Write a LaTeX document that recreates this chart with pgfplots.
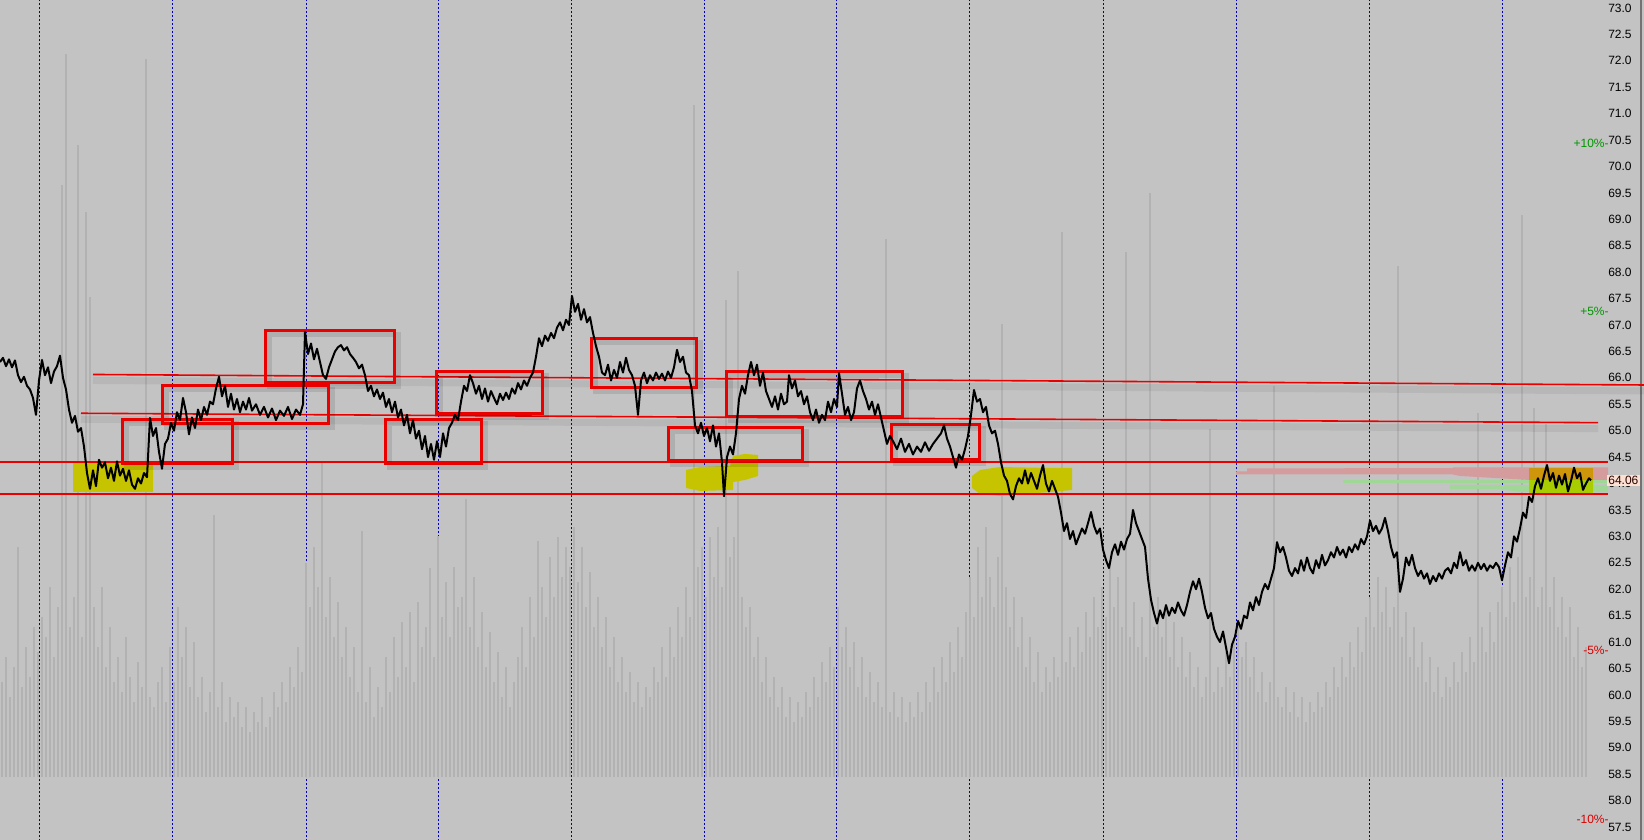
\documentclass[border=0pt]{standalone}
\usepackage{fontspec}
\setmainfont{Liberation Sans}
\usepackage{pgfplots}
\pgfplotsset{compat=1.18}

\definecolor{bgc}{RGB}{195,195,195}
\definecolor{volc}{RGB}{178,178,178}
\definecolor{sepblue}{RGB}{0,0,190}
\definecolor{hlyel}{RGB}{198,196,0}
\definecolor{pinkband}{RGB}{212,156,156}
\definecolor{greenband}{RGB}{160,214,150}
\definecolor{hlorange}{RGB}{206,150,10}
\definecolor{hlyg}{RGB}{168,206,0}
\definecolor{lastbox}{RGB}{252,224,210}
\definecolor{pctgreen}{RGB}{0,150,0}
\definecolor{pctred}{RGB}{215,0,0}
\definecolor{boxred}{RGB}{235,0,0}

\pgfplotsset{
  base/.style={width=822pt, height=420pt, scale only axis,
    xmin=0, xmax=1644, at={(0,0)}, anchor=south west},
  price/.style={base, ymin=57.254, ymax=73.151},
  rbox/.style={boxred, line width=1.5pt},
  rshadow/.style={black, opacity=0.10, line width=2.5pt, xshift=2pt, yshift=-2pt},
  lshadow/.style={black, opacity=0.06, line width=3.5pt, yshift=-3pt},
  level/.style={boxred, line width=0.8pt},
}
\newcommand{\lblfont}{\fontsize{6}{7}\selectfont}

\begin{document}
\begin{tikzpicture}

% price scale, background and session separators
\begin{axis}[price,
    axis background/.style={fill=bgc},
    axis line style={draw=none},
    xtick=\empty,
    ytick={57.5,58,...,73},
    yticklabel pos=right,
    ytick style={draw=none},
    yticklabel style={anchor=east, inner sep=0pt, xshift=-6pt, font=\lblfont},
    /pgf/number format/fixed,
    /pgf/number format/fixed zerofill,
    /pgf/number format/precision=1,
    /pgf/number format/assume math mode=true,
]
\pgfplotsinvokeforeach{39.7,172.6,306,438.3,571.1,704,836.8,969.8,1103.8,1236.7,1369.7,1502}{
  \addplot[sepblue, line width=0.5pt, dash pattern=on 1pt off 1pt] coordinates {(#1,57) (#1,74)};
}
\addplot[black!55, line width=0.6pt] coordinates {(1641,57) (1641,74)};
\end{axis}

% volume
\begin{axis}[base, ymin=-63.4, ymax=776.6, hide axis]
\addplot[ycomb, volc, line width=1.15pt] table[x expr=4*\coordindex+2, y index=0, header=false, row sep=\\] {
95\\120\\80\\110\\230\\90\\130\\100\\150\\125\\
160\\140\\190\\120\\170\\592\\723\\150\\180\\632\\
140\\565\\480\\170\\130\\190\\110\\150\\95\\120\\
85\\140\\100\\75\\115\\90\\718\\80\\70\\95\\
110\\75\\130\\95\\170\\120\\150\\90\\135\\80\\
100\\65\\85\\262\\70\\95\\55\\80\\60\\75\\
50\\70\\45\\65\\55\\80\\50\\60\\85\\70\\
95\\75\\110\\90\\130\\105\\
214\\170\\230\\190\\316\\160\\200\\140\\175\\120\\
150\\100\\130\\85\\246\\75\\110\\60\\90\\70\\
120\\85\\140\\100\\155\\110\\165\\95\\175\\130\\150\\209\\120\\
241\\160\\195\\140\\210\\170\\180\\278\\150\\200\\
130\\165\\110\\145\\95\\125\\80\\110\\70\\95\\
120\\150\\110\\180\\140\\236\\190\\160\\220\\180\\240\\200\\230\\
210\\250\\195\\230\\170\\205\\150\\180\\130\\160\\
110\\140\\95\\120\\85\\105\\75\\95\\70\\90\\
80\\110\\95\\130\\100\\150\\120\\170\\140\\190\\160\\672\\210\\
230\\180\\240\\200\\250\\190\\477\\220\\240\\506\\
180\\150\\170\\120\\140\\95\\120\\80\\100\\70\\
90\\60\\80\\55\\75\\60\\85\\70\\100\\80\\115\\95\\130\\110\\
170\\130\\150\\110\\135\\90\\120\\80\\105\\75\\
95\\70\\538\\65\\85\\60\\80\\55\\75\\60\\
85\\65\\95\\75\\110\\85\\120\\95\\135\\105\\150\\120\\165\\
200\\160\\230\\180\\250\\200\\170\\220\\453\\190\\
150\\180\\130\\160\\110\\140\\95\\125\\85\\110\\
95\\120\\100\\545\\115\\140\\110\\150\\125\\165\\140\\180\\150\\
190\\160\\210\\170\\200\\150\\525\\140\\175\\130\\160\\120\\
584\\150\\180\\140\\170\\120\\155\\110\\140\\100\\
125\\90\\110\\80\\100\\348\\85\\110\\90\\125\\100\\140\\
150\\120\\135\\100\\120\\85\\105\\75\\95\\391\\
80\\70\\90\\65\\85\\60\\80\\55\\75\\65\\
85\\70\\95\\80\\110\\90\\120\\100\\135\\110\\150\\125\\160\\
180\\150\\200\\165\\190\\150\\170\\511\\140\\165\\
120\\150\\110\\135\\95\\120\\85\\110\\80\\100\\
90\\115\\95\\125\\105\\140\\115\\364\\150\\125\\165\\135\\175\\
190\\160\\210\\175\\220\\562\\180\\200\\369\\170\\
190\\353\\170\\200\\150\\180\\140\\170\\120\\150\\110\\130\\
};
\end{axis}

% price, levels and annotations
\begin{axis}[price, hide axis]
% order-book style bands at the right
\addplot[draw=none, fill=pinkband] coordinates {
  (1236,64.228) (1247,64.228) (1247,64.285) (1453,64.294) (1453,64.304) (1608,64.304)
  (1608,64.067) (1530,64.067) (1460,64.143) (1453,64.171) (1236,64.171)} -- cycle;
\addplot[draw=none, fill=greenband] coordinates {
  (1343,64.058) (1608,64.058) (1608,64.001) (1343,64.001)} -- cycle;
\addplot[draw=none, fill=greenband] coordinates {
  (1450,63.973) (1608,63.973) (1608,63.840) (1520,63.840) (1500,63.897) (1450,63.897)} -- cycle;

% yellow highlights
\addplot[draw=none, fill=hlyel] coordinates {(73,64.389) (153,64.389) (153,63.840) (73,63.840)} -- cycle;
\addplot[draw=none, fill=hlyel] coordinates {
  (686,64.257) (700,64.313) (730,64.332) (733,64.522) (745,64.560) (758,64.541)
  (758,64.143) (745,64.067) (733,64.029) (733,63.878) (700,63.859) (686,63.916)} -- cycle;
\addplot[draw=none, fill=hlyel] coordinates {
  (972,64.143) (980,64.257) (1000,64.313) (1050,64.294) (1072,64.294)
  (1072,63.878) (1050,63.840) (1000,63.764) (980,63.802) (972,63.916)} -- cycle;
\addplot[draw=none, fill=hlorange] coordinates {(1529,64.294) (1593,64.294) (1593,64.067) (1529,64.067)} -- cycle;
\addplot[draw=none, fill=hlyg] coordinates {(1529,64.067) (1593,64.067) (1593,63.821) (1529,63.821)} -- cycle;

% horizontal and sloped levels
\addplot[level] coordinates {(0,64.402) (1608,64.402)};
\addplot[level] coordinates {(0,63.803) (1608,63.803)};
\addplot[lshadow] coordinates {(93,66.064) (1644,65.865)};
\addplot[lshadow] coordinates {(81,65.330) (1598,65.152)};
\addplot[level] coordinates {(93,66.064) (1644,65.865)};
\addplot[level] coordinates {(81,65.330) (1598,65.152)};

% boxes: shadows first
\addplot[rshadow] coordinates {(122,65.214) (232,65.214) (232,64.383) (122,64.383)} -- cycle;
\addplot[rshadow] coordinates {(162,65.847) (328,65.847) (328,65.127) (162,65.127)} -- cycle;
\addplot[rshadow] coordinates {(265,66.887) (394,66.887) (394,65.909) (265,65.909)} -- cycle;
\addplot[rshadow] coordinates {(385,65.214) (481,65.214) (481,64.383) (385,64.383)} -- cycle;
\addplot[rshadow] coordinates {(436,66.117) (542,66.117) (542,65.330) (436,65.330)} -- cycle;
\addplot[rshadow] coordinates {(591,66.736) (696,66.736) (696,65.814) (591,65.814)} -- cycle;
\addplot[rshadow] coordinates {(668,65.057) (802,65.057) (802,64.427) (668,64.427)} -- cycle;
\addplot[rshadow] coordinates {(726,66.111) (902,66.111) (902,65.260) (726,65.260)} -- cycle;
\addplot[rshadow] coordinates {(891,65.121) (979,65.121) (979,64.446) (891,64.446)} -- cycle;

\addplot[rbox] coordinates {(122,65.214) (232,65.214) (232,64.383) (122,64.383)} -- cycle;
\addplot[rbox] coordinates {(162,65.847) (328,65.847) (328,65.127) (162,65.127)} -- cycle;
\addplot[rbox] coordinates {(265,66.887) (394,66.887) (394,65.909) (265,65.909)} -- cycle;
\addplot[rbox] coordinates {(385,65.214) (481,65.214) (481,64.383) (385,64.383)} -- cycle;
\addplot[rbox] coordinates {(436,66.117) (542,66.117) (542,65.330) (436,65.330)} -- cycle;
\addplot[rbox] coordinates {(591,66.736) (696,66.736) (696,65.814) (591,65.814)} -- cycle;
\addplot[rbox] coordinates {(668,65.057) (802,65.057) (802,64.427) (668,64.427)} -- cycle;
\addplot[rbox] coordinates {(726,66.111) (902,66.111) (902,65.260) (726,65.260)} -- cycle;
\addplot[rbox] coordinates {(891,65.121) (979,65.121) (979,64.446) (891,64.446)} -- cycle;

% price
\addplot[black, line width=1pt, line join=round] coordinates {
(0,66.30) (3,66.38) (6,66.22) (9,66.35) (12,66.20) (15,66.33) (18,66.05) (21,65.92) (24,66.02) (27,65.85)
(30,65.78) (33,65.62) (36,65.30) (39,65.95) (42,66.34) (45,66.05) (48,66.20) (51,65.90) (54,66.12) (57,66.22)
(60,66.42) (63,66.00) (66,65.78) (69,65.40) (72,65.15) (75,65.28) (78,64.98) (81,65.05) (84,64.70) (87,64.20)
(90,63.90) (93,64.25) (96,63.95) (99,64.45) (102,64.30) (105,64.40) (108,64.10) (111,64.30) (114,64.05) (117,64.42)
(120,64.15) (123,64.28) (126,64.05) (129,64.25) (132,63.98) (135,63.90) (138,64.10) (141,64.00) (144,64.20) (147,64.12)
(150,65.24) (153,64.90) (156,65.05) (159,64.60) (162,64.28) (165,64.75) (168,64.85) (171,65.15) (174,65.00) (177,65.35)
(180,65.20) (183,65.62) (186,65.35) (189,64.93) (192,65.25) (195,65.05) (198,65.40) (201,65.20) (204,65.45) (207,65.30)
(210,65.55) (213,65.50) (216,65.80) (219,66.02) (222,65.65) (225,65.85) (228,65.45) (231,65.70) (234,65.40) (237,65.60)
(240,65.35) (243,65.55) (246,65.40) (249,65.62) (252,65.38) (256,65.50) (260,65.30) (264,65.45) (268,65.25) (272,65.42)
(276,65.20) (280,65.38) (284,65.28) (288,65.45) (292,65.22) (296,65.40) (300,65.30) (303,65.50) (305,66.87) (308,66.45)
(311,66.65) (314,66.35) (317,66.55) (320,66.30) (323,66.05) (326,65.98) (329,66.20) (332,66.35) (335,66.50) (338,66.58)
(341,66.62) (344,66.52) (347,66.58) (350,66.45) (353,66.38) (356,66.30) (359,66.18) (362,66.25) (365,66.05) (368,65.75)
(371,65.85) (374,65.65) (377,65.78) (380,65.60) (383,65.72) (386,65.45) (389,65.60) (392,65.35) (395,65.55) (398,65.25)
(401,65.40) (404,65.10) (407,65.30) (410,64.95) (413,65.20) (416,64.85) (419,65.00) (422,64.65) (425,64.90) (428,64.50)
(431,64.75) (434,64.45) (437,64.80) (440,64.50) (443,64.95) (446,64.70) (449,65.05) (452,65.15) (455,65.30) (458,65.20)
(461,65.55) (464,65.85) (467,65.75) (470,66.05) (473,65.90) (476,65.70) (479,65.85) (482,65.60) (485,65.80) (488,65.55)
(491,65.75) (494,65.62) (497,65.50) (500,65.70) (503,65.58) (506,65.72) (509,65.60) (512,65.80) (515,65.70) (518,65.90)
(521,65.78) (524,65.95) (527,65.85) (530,66.00) (533,66.10) (536,66.40) (539,66.75) (542,66.60) (545,66.80) (548,66.70)
(551,66.85) (554,66.75) (557,66.95) (560,67.05) (563,66.90) (566,67.10) (569,67.00) (572,67.55) (575,67.25) (578,67.40)
(581,67.10) (584,67.30) (587,67.05) (590,67.15) (593,66.85) (596,66.60) (599,66.40) (602,66.10) (605,66.05) (608,66.25)
(611,65.95) (614,66.15) (617,66.00) (620,66.30) (623,66.10) (626,66.38) (629,66.15) (632,66.05) (635,65.85) (638,65.30)
(641,65.95) (644,66.10) (647,65.90) (650,66.05) (653,65.95) (656,66.10) (659,65.98) (662,66.08) (665,65.95) (668,66.12)
(671,66.00) (674,66.20) (677,66.53) (680,66.30) (683,66.40) (686,66.10) (689,66.05) (692,65.75) (695,65.10) (698,64.95)
(701,65.15) (704,64.90) (707,65.05) (710,64.80) (713,65.10) (716,64.70) (719,64.95) (722,64.40) (724,63.76) (727,64.50)
(730,64.70) (733,64.55) (736,64.95) (739,65.60) (742,65.85) (745,65.70) (748,66.05) (751,66.30) (754,66.05) (757,66.25)
(760,65.85) (763,66.10) (766,65.75) (769,65.60) (772,65.45) (775,65.65) (778,65.40) (781,65.70) (784,65.50) (787,65.55)
(789,66.05) (792,65.80) (795,65.95) (798,65.65) (801,65.75) (804,65.50) (807,65.65) (810,65.35) (813,65.20) (816,65.40)
(819,65.15) (822,65.30) (825,65.20) (828,65.55) (831,65.35) (834,65.60) (837,65.45) (839,66.09) (842,65.70) (845,65.30)
(848,65.45) (851,65.20) (854,65.35) (857,65.80) (860,65.95) (863,65.75) (866,65.60) (869,65.40) (872,65.55) (875,65.30)
(878,65.50) (881,65.25) (884,65.00) (887,64.75) (890,64.90) (893,64.80) (897,64.65) (901,64.85) (905,64.60) (909,64.75)
(913,64.55) (917,64.70) (921,64.60) (925,64.78) (929,64.62) (933,64.75) (937,64.85) (941,64.95) (944,65.10) (947,64.85)
(950,64.70) (953,64.50) (956,64.30) (959,64.55) (962,64.45) (965,64.65) (968,64.90) (971,65.30) (974,65.77) (977,65.55)
(980,65.60) (983,65.35) (986,65.45) (989,65.10) (992,64.95) (995,65.00) (998,64.75) (1001,64.40) (1004,64.15) (1007,64.05)
(1010,63.80) (1013,63.70) (1016,63.95) (1019,64.10) (1022,64.00) (1025,64.25) (1028,64.00) (1031,64.20) (1034,64.05) (1037,63.90)
(1040,64.15) (1043,64.35) (1046,64.00) (1049,63.85) (1052,64.05) (1055,63.90) (1058,63.75) (1061,63.45) (1064,63.10) (1067,63.25)
(1070,62.95) (1073,63.10) (1076,62.85) (1079,63.00) (1082,63.15) (1085,63.05) (1088,63.25) (1091,63.46) (1094,63.20) (1097,63.05)
(1100,63.15) (1103,62.75) (1106,62.55) (1109,62.40) (1112,62.70) (1115,62.85) (1118,62.65) (1121,62.90) (1124,62.75) (1127,62.95)
(1130,63.05) (1133,63.50) (1136,63.25) (1139,63.10) (1142,62.95) (1145,62.80) (1148,62.20) (1151,61.80) (1154,61.55) (1157,61.35)
(1160,61.60) (1163,61.45) (1166,61.70) (1169,61.50) (1172,61.65) (1175,61.55) (1178,61.75) (1181,61.60) (1184,61.50) (1187,61.70)
(1190,61.95) (1193,62.15) (1196,62.00) (1199,62.20) (1202,61.95) (1205,61.65) (1208,61.45) (1211,61.55) (1214,61.25) (1217,61.10)
(1220,61.00) (1223,61.20) (1226,60.90) (1229,60.60) (1232,60.95) (1235,61.10) (1238,61.40) (1241,61.25) (1244,61.50) (1247,61.45)
(1250,61.75) (1253,61.60) (1256,61.85) (1259,61.70) (1262,61.95) (1265,62.10) (1268,62.00) (1271,62.20) (1274,62.40) (1277,62.89)
(1280,62.70) (1283,62.80) (1286,62.60) (1289,62.35) (1292,62.25) (1295,62.40) (1298,62.30) (1301,62.55) (1304,62.35) (1307,62.60)
(1310,62.40) (1313,62.30) (1316,62.55) (1319,62.40) (1322,62.65) (1325,62.45) (1328,62.55) (1331,62.70) (1334,62.60) (1337,62.80)
(1340,62.65) (1343,62.75) (1346,62.60) (1349,62.80) (1352,62.70) (1355,62.85) (1358,62.75) (1361,62.95) (1364,62.85) (1367,63.00)
(1370,63.30) (1373,63.10) (1376,63.20) (1379,63.05) (1382,63.15) (1385,63.35) (1388,63.10) (1391,62.80) (1394,62.60) (1397,62.70)
(1400,61.95) (1403,62.20) (1406,62.60) (1409,62.45) (1412,62.65) (1415,62.40) (1418,62.25) (1421,62.35) (1424,62.20) (1427,62.30)
(1430,62.10) (1433,62.25) (1436,62.15) (1439,62.30) (1442,62.20) (1445,62.35) (1448,62.40) (1451,62.30) (1454,62.50) (1457,62.40)
(1460,62.70) (1463,62.45) (1466,62.55) (1469,62.35) (1472,62.45) (1475,62.35) (1478,62.50) (1481,62.38) (1484,62.48) (1487,62.35)
(1490,62.45) (1493,62.40) (1496,62.50) (1499,62.42) (1502,62.17) (1505,62.45) (1508,62.70) (1511,62.60) (1514,63.00) (1517,62.90)
(1520,63.15) (1523,63.45) (1526,63.35) (1529,63.75) (1532,63.65) (1535,63.95) (1538,64.10) (1541,63.90) (1544,64.15) (1547,64.35)
(1550,64.05) (1553,64.20) (1556,63.92) (1559,64.15) (1562,63.98) (1565,64.18) (1568,63.85) (1571,64.05) (1574,64.30) (1577,64.10)
(1580,64.20) (1583,63.88) (1586,64.00) (1589,64.10) (1591,64.06)
};

% percentage markers and last price
\node[anchor=east, inner sep=0pt, font=\lblfont, text=pctgreen] at (axis cs:1609,70.44) {+10\%-};
\node[anchor=east, inner sep=0pt, font=\lblfont, text=pctgreen] at (axis cs:1609,67.25) {+5\%-};
\node[anchor=east, inner sep=0pt, font=\lblfont, text=pctred] at (axis cs:1609,60.85) {-5\%-};
\node[anchor=east, inner sep=0pt, font=\lblfont, text=pctred] at (axis cs:1609,57.65) {-10\%-};
\node[anchor=east, inner sep=0.6pt, fill=lastbox, font=\lblfont, text=black!85!red] at (axis cs:1640,64.06) {64.06};
\end{axis}

\pgfresetboundingbox
\useasboundingbox (0,0) rectangle (822pt,420pt);
\end{tikzpicture}
\end{document}
